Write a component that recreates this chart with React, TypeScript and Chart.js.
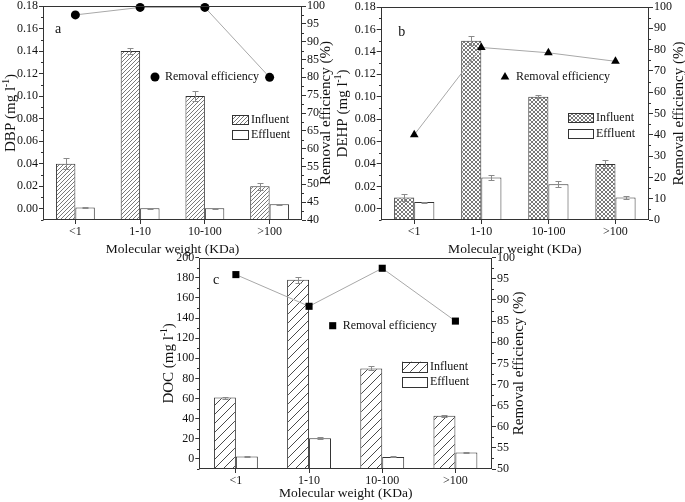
import React, { useEffect, useRef } from 'react';
import { Chart, registerables } from 'chart.js';

Chart.register(...registerables);

const FONT = "'Liberation Serif', 'Times New Roman', serif";

// ---------- data ----------
const categories = ['<1', '1-10', '10-100', '>100'];

const dbpInfluent = [0.04, 0.14, 0.1, 0.02];
const dbpInfluentErr = [0.005, 0.003, 0.0045, 0.003];
const dbpEffluent = [0.001, 0.0005, 0.0005, 0.004];
const dbpEffluentErr = [0.0003, 0.0003, 0.0003, 0.0003];
const dbpRemoval = [97.5, 99.6, 99.6, 80];

const dehpInfluent = [0.01, 0.15, 0.1, 0.04];
const dehpInfluentErr = [0.003, 0.004, 0.0015, 0.0035];
const dehpEffluent = [0.006, 0.028, 0.022, 0.01];
const dehpEffluentErr = [0.0005, 0.002, 0.0025, 0.001];
const dehpRemoval = [40, 81, 78.5, 74.5];

const docInfluent = [61, 178, 90, 43];
const docInfluentErr = [1, 3, 2, 1];
const docEffluent = [2.5, 20.5, 2, 6.5];
const docEffluentErr = [0.5, 1, 0.5, 0.3];
const docRemoval = [96, 88.5, 97.5, 85];

const concTicks = [0, 0.02, 0.04, 0.06, 0.08, 0.1, 0.12, 0.14, 0.16, 0.18];
const docTicks = [0, 20, 40, 60, 80, 100, 120, 140, 160, 180, 200];
const removalTicksA = [40, 45, 50, 55, 60, 65, 70, 75, 80, 85, 90, 95, 100];
const removalTicksB = [0, 10, 20, 30, 40, 50, 60, 70, 80, 90, 100];
const removalTicksC = [50, 55, 60, 65, 70, 75, 80, 85, 90, 95, 100];

// ---------- panel settings ----------
type PanelCfg = {
  box: { left: number; top: number; width: number; height: number };
  area: { left: number; right: number; top: number; bottom: number };
  influent: number[];
  influentErr: number[];
  effluent: number[];
  effluentErr: number[];
  removal: number[];
  leftMin: number;
  leftMax: number;
  leftTicks: number[];
  leftMinor: number;
  decimals: number;
  rightMin: number;
  rightMax: number;
  rightTicks: number[];
  rightMinor: number;
  pattern: 'dense' | 'cross' | 'sparse';
  marker: 'circle' | 'triangle' | 'rect';
  markerRadius: number;
  yTitle: string;
  letter: string;
  letterPos: [number, number];
  leftTitleX: number;
  rightTitleX: number;
  xTitleY: number;
  removalLegend: { x: number; y: number; textX: number };
  barLegend: { x: number; y1: number; y2: number; w: number; h: number; textX: number };
};

const panelA: PanelCfg = {
  box: { left: 0, top: 0, width: 345, height: 260 },
  area: { left: 43, right: 302, top: 6, bottom: 220 },
  influent: dbpInfluent,
  influentErr: dbpInfluentErr,
  effluent: dbpEffluent,
  effluentErr: dbpEffluentErr,
  removal: dbpRemoval,
  leftMin: -0.01,
  leftMax: 0.18,
  leftTicks: concTicks,
  leftMinor: 0.01,
  decimals: 2,
  rightMin: 40,
  rightMax: 100,
  rightTicks: removalTicksA,
  rightMinor: 2.5,
  pattern: 'dense',
  marker: 'circle',
  markerRadius: 4.5,
  yTitle: 'DBP (mg l',
  letter: 'a',
  letterPos: [58, 29],
  leftTitleX: 11,
  rightTitleX: 326,
  xTitleY: 249,
  removalLegend: { x: 155, y: 77, textX: 165 },
  barLegend: { x: 232, y1: 115, y2: 130, w: 16, h: 9, textX: 251 },
};

const panelB: PanelCfg = {
  box: { left: 330, top: 0, width: 355, height: 260 },
  area: { left: 50.7, right: 319, top: 7, bottom: 220 },
  influent: dehpInfluent,
  influentErr: dehpInfluentErr,
  effluent: dehpEffluent,
  effluentErr: dehpEffluentErr,
  removal: dehpRemoval,
  leftMin: -0.01,
  leftMax: 0.18,
  leftTicks: concTicks,
  leftMinor: 0.01,
  decimals: 2,
  rightMin: 0,
  rightMax: 100,
  rightTicks: removalTicksB,
  rightMinor: 5,
  pattern: 'cross',
  marker: 'triangle',
  markerRadius: 5,
  yTitle: 'DEHP (mg l',
  letter: 'b',
  letterPos: [71.7, 32.7],
  leftTitleX: 13,
  rightTitleX: 349,
  xTitleY: 249,
  removalLegend: { x: 175, y: 77, textX: 186 },
  barLegend: { x: 238.3, y1: 113.3, y2: 129, w: 25, h: 9, textX: 266 },
};

const panelC: PanelCfg = {
  box: { left: 150, top: 245, width: 380, height: 257 },
  area: { left: 49.3, right: 342, top: 12.7, bottom: 224 },
  influent: docInfluent,
  influentErr: docInfluentErr,
  effluent: docEffluent,
  effluentErr: docEffluentErr,
  removal: docRemoval,
  leftMin: -10,
  leftMax: 200,
  leftTicks: docTicks,
  leftMinor: 10,
  decimals: 0,
  rightMin: 50,
  rightMax: 100,
  rightTicks: removalTicksC,
  rightMinor: 2.5,
  pattern: 'sparse',
  marker: 'rect',
  markerRadius: 5,
  yTitle: 'DOC (mg l',
  letter: 'c',
  letterPos: [66, 35],
  leftTitleX: 19,
  rightTitleX: 369,
  xTitleY: 248,
  removalLegend: { x: 182.7, y: 80.7, textX: 192.7 },
  barLegend: { x: 252, y1: 116.7, y2: 131.7, w: 24.7, h: 10, textX: 280 },
};

// ---------- helpers ----------
function makePattern(kind: 'dense' | 'cross' | 'sparse'): CanvasPattern {
  const size = kind === 'sparse' ? 9 : 4;
  const c = document.createElement('canvas');
  c.width = size;
  c.height = size;
  const g = c.getContext('2d')!;
  g.fillStyle = '#ffffff';
  g.fillRect(0, 0, size, size);
  g.strokeStyle = kind === 'cross' ? '#555555' : kind === 'dense' ? '#6a6a6a' : '#4a4a4a';
  g.lineWidth = kind === 'sparse' ? 1 : kind === 'cross' ? 0.8 : 0.9;
  g.beginPath();
  g.moveTo(0, size);
  g.lineTo(size, 0);
  g.moveTo(-size / 2, size / 2);
  g.lineTo(size / 2, -size / 2);
  g.moveTo(size / 2, size * 1.5);
  g.lineTo(size * 1.5, size / 2);
  if (kind === 'cross') {
    g.moveTo(0, 0);
    g.lineTo(size, size);
    g.moveTo(-size / 2, size / 2);
    g.lineTo(size / 2, size * 1.5);
    g.moveTo(size / 2, -size / 2);
    g.lineTo(size * 1.5, size / 2);
  }
  g.stroke();
  return g.createPattern(c, 'repeat')!;
}

function drawMarker(ctx: CanvasRenderingContext2D, kind: string, x: number, y: number, r: number) {
  ctx.beginPath();
  if (kind === 'circle') {
    ctx.arc(x, y, r, 0, Math.PI * 2);
  } else if (kind === 'triangle') {
    let rad = 0;
    ctx.moveTo(x + Math.sin(rad) * r, y - Math.cos(rad) * r);
    rad += (2 * Math.PI) / 3;
    ctx.lineTo(x + Math.sin(rad) * r, y - Math.cos(rad) * r);
    rad += (2 * Math.PI) / 3;
    ctx.lineTo(x + Math.sin(rad) * r, y - Math.cos(rad) * r);
    ctx.closePath();
  } else {
    const s = r * Math.SQRT1_2;
    ctx.rect(x - s, y - s, 2 * s, 2 * s);
  }
  ctx.fillStyle = '#000';
  ctx.fill();
}

function buildConfig(p: PanelCfg): any {
  const pat = makePattern(p.pattern);
  const tickFont = { family: FONT, size: 12 };
  const gridOpts = {
    display: true,
    drawOnChartArea: false,
    drawTicks: true,
    tickLength: 4,
    color: '#333',
    lineWidth: 1,
  };

  const deco = {
    id: 'deco',
    afterDatasetDraw(chart: any, args: any) {
      if (args.index !== 1 && args.index !== 2) return;
      const vals = args.index === 1 ? p.influent : p.effluent;
      const errs = args.index === 1 ? p.influentErr : p.effluentErr;
      const ys = chart.scales.y;
      const ctx = chart.ctx as CanvasRenderingContext2D;
      ctx.save();
      ctx.strokeStyle = '#8a8a8a';
      ctx.lineWidth = 1;
      args.meta.data.forEach((el: any, i: number) => {
        const x = Math.round(el.x) + 0.5;
        const yT = Math.round(ys.getPixelForValue(vals[i] + errs[i])) + 0.5;
        const yB = Math.round(ys.getPixelForValue(vals[i] - errs[i])) + 0.5;
        ctx.beginPath();
        ctx.moveTo(x, yT);
        ctx.lineTo(x, yB);
        ctx.moveTo(x - 3, yT);
        ctx.lineTo(x + 3, yT);
        ctx.moveTo(x - 3, yB);
        ctx.lineTo(x + 3, yB);
        ctx.stroke();
      });
      ctx.restore();
    },
    afterDraw(chart: any) {
      const ctx = chart.ctx as CanvasRenderingContext2D;
      const a = chart.chartArea;
      ctx.save();
      // frame
      ctx.strokeStyle = '#333';
      ctx.lineWidth = 1;
      const l = Math.round(a.left) + 0.5;
      const r = Math.round(a.right) - 0.5;
      const t = Math.round(a.top) + 0.5;
      const b = Math.round(a.bottom) - 0.5;
      ctx.strokeRect(l, t, r - l, b - t);

      // minor ticks
      const minor = (scale: any, min: number, max: number, step: number, majors: number[], x: number, dir: number) => {
        const n = Math.round((max - min) / step);
        ctx.beginPath();
        for (let k = 0; k <= n; k++) {
          const v = min + k * step;
          if (majors.some((m) => Math.abs(m - v) < step / 10)) continue;
          const y = Math.round(scale.getPixelForValue(v)) + 0.5;
          ctx.moveTo(x, y);
          ctx.lineTo(x + dir * 2.5, y);
        }
        ctx.stroke();
      };
      minor(chart.scales.y, p.leftMin, p.leftMax, p.leftMinor, p.leftTicks, l, -1);
      minor(chart.scales.y1, p.rightMin, p.rightMax, p.rightMinor, p.rightTicks, r, 1);

      ctx.fillStyle = '#111';
      ctx.textBaseline = 'middle';
      const cy = (a.top + a.bottom) / 2;
      const cx = (a.left + a.right) / 2;

      // left title with superscript
      ctx.save();
      ctx.translate(p.leftTitleX, cy);
      ctx.rotate(-Math.PI / 2);
      const mainFont = `15px ${FONT}`;
      const supFont = `9.5px ${FONT}`;
      ctx.font = mainFont;
      const w1 = ctx.measureText(p.yTitle).width;
      const w3 = ctx.measureText(')').width;
      ctx.font = supFont;
      const w2 = ctx.measureText('-1').width;
      let sx = -(w1 + w2 + w3) / 2;
      ctx.textAlign = 'left';
      ctx.font = mainFont;
      ctx.fillText(p.yTitle, sx, 0);
      sx += w1;
      ctx.font = supFont;
      ctx.fillText('-1', sx, -5);
      sx += w2;
      ctx.font = mainFont;
      ctx.fillText(')', sx, 0);
      ctx.restore();

      // right title
      ctx.save();
      ctx.translate(p.rightTitleX, cy);
      ctx.rotate(-Math.PI / 2);
      ctx.font = `15px ${FONT}`;
      ctx.textAlign = 'center';
      ctx.fillText('Removal efficiency (%)', 0, 0);
      ctx.restore();

      // x title
      ctx.font = `13.5px ${FONT}`;
      ctx.textAlign = 'center';
      ctx.fillText('Molecular weight (KDa)', cx, p.xTitleY);

      // panel letter
      ctx.font = `14px ${FONT}`;
      ctx.fillText(p.letter, p.letterPos[0], p.letterPos[1]);

      // removal legend
      drawMarker(ctx, p.marker, p.removalLegend.x, p.removalLegend.y, p.markerRadius);
      ctx.fillStyle = '#111';
      ctx.font = `12px ${FONT}`;
      ctx.textAlign = 'left';
      ctx.fillText('Removal efficiency', p.removalLegend.textX, p.removalLegend.y);

      // bar legend
      const bl = p.barLegend;
      ctx.fillStyle = pat;
      ctx.fillRect(bl.x, bl.y1, bl.w, bl.h);
      ctx.strokeStyle = '#333';
      ctx.strokeRect(Math.round(bl.x) + 0.5, Math.round(bl.y1) + 0.5, Math.round(bl.w), Math.round(bl.h));
      ctx.fillStyle = '#fff';
      ctx.fillRect(bl.x, bl.y2, bl.w, bl.h);
      ctx.strokeRect(Math.round(bl.x) + 0.5, Math.round(bl.y2) + 0.5, Math.round(bl.w), Math.round(bl.h));
      ctx.fillStyle = '#111';
      ctx.fillText('Influent', bl.textX, bl.y1 + bl.h / 2);
      ctx.fillText('Effluent', bl.textX, bl.y2 + bl.h / 2);
      ctx.restore();
    },
  };

  return {
    type: 'bar',
    data: {
      labels: categories,
      datasets: [
        {
          type: 'line',
          label: 'Removal efficiency',
          data: p.removal,
          yAxisID: 'y1',
          order: 0,
          borderColor: '#a8a8a8',
          borderWidth: 1,
          pointStyle: p.marker,
          pointRadius: p.markerRadius,
          pointBackgroundColor: '#000',
          pointBorderColor: '#000',
          pointBorderWidth: 0,
          fill: false,
          tension: 0,
          clip: false,
        },
        {
          type: 'bar',
          label: 'Influent',
          data: p.influent,
          yAxisID: 'y',
          order: 1,
          backgroundColor: pat,
          borderColor: '#333',
          borderWidth: 1,
          borderSkipped: false,
          base: p.leftMin,
          categoryPercentage: 0.6,
          barPercentage: 1,
        },
        {
          type: 'bar',
          label: 'Effluent',
          data: p.effluent,
          yAxisID: 'y',
          order: 2,
          backgroundColor: '#ffffff',
          borderColor: '#333',
          borderWidth: 1,
          borderSkipped: false,
          base: p.leftMin,
          categoryPercentage: 0.6,
          barPercentage: 1,
        },
      ],
    },
    options: {
      responsive: false,
      animation: false,
      devicePixelRatio: 1,
      layout: { padding: { top: p.area.top, left: 0, right: 0, bottom: 0 } },
      plugins: {
        legend: { display: false },
        tooltip: { enabled: false },
        title: { display: false },
      },
      scales: {
        x: {
          type: 'category',
          offset: true,
          grid: { ...gridOpts, offset: false },
          border: { display: false },
          ticks: { font: tickFont, color: '#111', padding: 1, maxRotation: 0, autoSkip: false },
          afterFit: (s: any) => {
            s.height = p.box.height - p.area.bottom;
            s.paddingLeft = 0;
            s.paddingRight = 0;
          },
        },
        y: {
          type: 'linear',
          position: 'left',
          min: p.leftMin,
          max: p.leftMax,
          grid: gridOpts,
          border: { display: false },
          afterBuildTicks: (s: any) => {
            s.ticks = p.leftTicks.map((v) => ({ value: v }));
          },
          ticks: {
            font: tickFont,
            color: '#111',
            padding: 1,
            autoSkip: false,
            callback: (v: any) => Number(v).toFixed(p.decimals),
          },
          afterFit: (s: any) => {
            s.width = p.area.left;
            s.paddingTop = 0;
            s.paddingBottom = 0;
          },
        },
        y1: {
          type: 'linear',
          position: 'right',
          min: p.rightMin,
          max: p.rightMax,
          grid: gridOpts,
          border: { display: false },
          afterBuildTicks: (s: any) => {
            s.ticks = p.rightTicks.map((v) => ({ value: v }));
          },
          ticks: {
            font: tickFont,
            color: '#111',
            padding: 1,
            autoSkip: false,
            callback: (v: any) => String(v),
          },
          afterFit: (s: any) => {
            s.width = p.box.width - p.area.right;
            s.paddingTop = 0;
            s.paddingBottom = 0;
          },
        },
      },
    },
    plugins: [deco],
  };
}

function Panel({ cfg }: { cfg: PanelCfg }) {
  const ref = useRef<HTMLCanvasElement>(null);
  useEffect(() => {
    const chart = new Chart(ref.current!, buildConfig(cfg));
    return () => chart.destroy();
  }, [cfg]);
  return (
    <canvas
      ref={ref}
      width={cfg.box.width}
      height={cfg.box.height}
      style={{
        position: 'absolute',
        left: cfg.box.left,
        top: cfg.box.top,
        width: cfg.box.width,
        height: cfg.box.height,
      }}
    />
  );
}

export default function App() {
  return (
    <div
      style={{
        position: 'absolute',
        left: 0,
        top: 0,
        width: 685,
        height: 502,
        background: '#ffffff',
        overflow: 'hidden',
      }}
    >
      <Panel cfg={panelA} />
      <Panel cfg={panelB} />
      <Panel cfg={panelC} />
    </div>
  );
}
